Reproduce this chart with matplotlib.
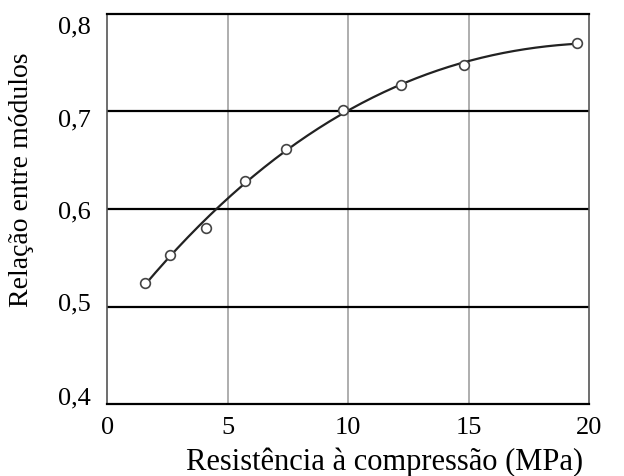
import numpy as np
import matplotlib.pyplot as plt
import matplotlib.transforms as mtransforms
from matplotlib.ticker import FuncFormatter

resistencia = [1.55, 2.6, 4.1, 5.7, 7.4, 9.8, 12.2, 14.8, 19.5]
relacao = [0.524, 0.553, 0.581, 0.629, 0.661, 0.701, 0.727, 0.748, 0.770]

x_ticks = [0, 5, 10, 15, 20]
y_ticks = [0.4, 0.5, 0.6, 0.7, 0.8]

plt.rcParams["font.family"] = ["Liberation Serif", "DejaVu Serif"]

fig = plt.figure(figsize=(6.24, 4.76), dpi=100)
ax = fig.add_axes([0.172, 0.151, 0.772, 0.820])

# smooth trend curve fitted to the points
coef = np.polyfit(resistencia, relacao, 3)
xs = np.linspace(min(resistencia), max(resistencia), 200)
ax.plot(xs, np.polyval(coef, xs), color="#222222", lw=1.6, zorder=3)
ax.plot(resistencia, relacao, "o", ms=7, mfc="white", mec="#444444", mew=1.2, zorder=4)

ax.set_xlim(0, 20)
ax.set_ylim(0.4, 0.8)
ax.set_xticks(x_ticks)
ax.set_yticks(y_ticks)
ax.yaxis.set_major_formatter(FuncFormatter(lambda v, p: f"{v:.1f}".replace(".", ",")))
ax.tick_params(length=0, labelsize=19)
ax.tick_params(axis="y", pad=12)
ax.tick_params(axis="x", pad=9)

# y labels in the original sit a bit inside the gridlines at both ends
shifts = [6, 3, -1, -5, -8]  # points, bottom to top
for lab, dy in zip(ax.get_yticklabels(), shifts):
    off = mtransforms.ScaledTranslation(0, dy / 72, fig.dpi_scale_trans)
    lab.set_transform(lab.get_transform() + off)

for v in x_ticks[1:-1]:
    ax.axvline(v, color="#999999", lw=1.1, zorder=1)
for v in y_ticks[1:-1]:
    ax.axhline(v, color="black", lw=1.6, zorder=2)

for s in ["top", "bottom"]:
    ax.spines[s].set_linewidth(1.6)
    ax.spines[s].set_color("black")
for s in ["left", "right"]:
    ax.spines[s].set_linewidth(1.2)
    ax.spines[s].set_color("#555555")

ax.set_xlabel("Resistência à compressão (MPa)", fontsize=22)
ax.set_ylabel("Relação entre módulos", fontsize=20)
ax.xaxis.set_label_coords(0.575, -0.112)
ax.yaxis.set_label_coords(-0.152, 0.574)

fig.savefig("out.png", dpi=100)
